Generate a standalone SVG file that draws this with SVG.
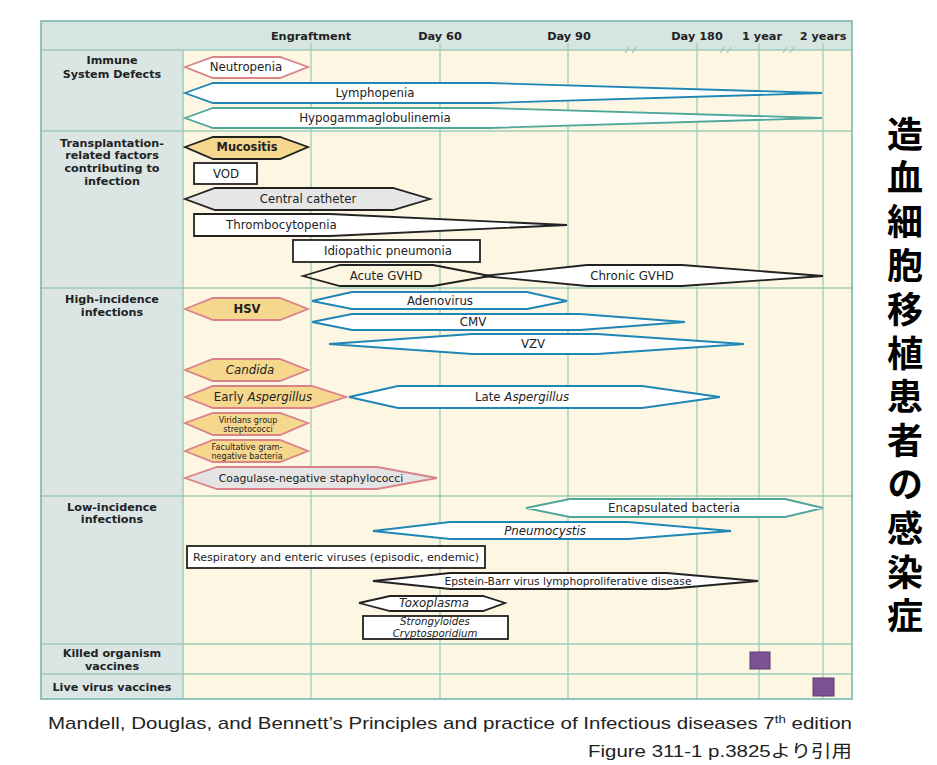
<svg xmlns="http://www.w3.org/2000/svg" width="937" height="765" viewBox="0 0 937 765">
<style>
.lbl{font-family:"DejaVu Sans",sans-serif;font-size:11.8px;fill:#222;text-anchor:middle}
.sm{font-family:"DejaVu Sans",sans-serif;font-size:8.1px;fill:#222;text-anchor:middle}
.it{font-style:italic}
.hd{font-family:"DejaVu Sans",sans-serif;font-weight:bold;font-size:11.3px;fill:#222;text-anchor:middle}
.sec{font-family:"DejaVu Sans",sans-serif;font-weight:bold;font-size:11.2px;fill:#222;text-anchor:middle}
.grid{stroke:#9fcdb8;stroke-width:1.3;fill:none}
.sep{stroke:#9fcdb8;stroke-width:1.5;fill:none}
.pink{fill:#fff;stroke:#d9828a;stroke-width:1.8}
.yel{fill:#f6d78e;stroke:#d9828a;stroke-width:1.8}
.yelk{fill:#f6d78e;stroke:#222;stroke-width:1.8}
.blue{fill:#fff;stroke:#1f86b5;stroke-width:1.8}
.teal{fill:#fff;stroke:#4fa79c;stroke-width:1.8}
.blk{fill:#fff;stroke:#222;stroke-width:1.8}
.gry{fill:#e6e6e6;stroke:#222;stroke-width:1.8}
.gryp{fill:#e4e4e4;stroke:#d9828a;stroke-width:1.8}
.vac{fill:#7c5295;stroke:#5a3a70;stroke-width:1}
.brk{stroke:#9ab4b4;stroke-width:1}
.cite{font-family:"Liberation Sans","Noto Sans CJK JP",sans-serif;font-size:17px;fill:#222}
.jp{font-family:"Noto Sans CJK JP",sans-serif;font-weight:bold;font-size:36px;fill:#000;writing-mode:vertical-rl;letter-spacing:7.8px}
</style>
<rect width="937" height="765" fill="#fff"/>
<g id="chart-frame">
<rect x="41" y="21" width="811" height="678" fill="#fcf6e2"/>
<rect x="41" y="21" width="811" height="29" fill="#d6e4e2"/>
<rect x="41" y="50" width="142" height="649" fill="#dae5e4"/>
<g class="grid">
<line x1="311" y1="43" x2="311" y2="699"/>
<line x1="440" y1="43" x2="440" y2="699"/>
<line x1="568" y1="43" x2="568" y2="699"/>
<line x1="697" y1="43" x2="697" y2="699"/>
<line x1="759" y1="43" x2="759" y2="699"/>
<line x1="823" y1="43" x2="823" y2="699"/>
</g>
<g class="sep">
<line x1="41" y1="50" x2="852" y2="50"/>
<line x1="41" y1="131" x2="852" y2="131"/>
<line x1="41" y1="288" x2="852" y2="288"/>
<line x1="41" y1="496" x2="852" y2="496"/>
<line x1="41" y1="644" x2="852" y2="644"/>
<line x1="41" y1="674" x2="852" y2="674"/>
<line x1="183" y1="50" x2="183" y2="699"/>
</g>
<g class="brk">
<line x1="625" y1="53" x2="629" y2="47"/><line x1="632" y1="53" x2="636" y2="47"/>
<line x1="720" y1="53" x2="724" y2="47"/><line x1="727" y1="53" x2="731" y2="47"/>
<line x1="783" y1="53" x2="787" y2="47"/><line x1="790" y1="53" x2="794" y2="47"/>
</g>
<rect x="41" y="21" width="811" height="678" fill="none" stroke="#7ab8b2" stroke-width="1.6"/>
</g>
<g id="timeline-header">
<text class="hd" x="311" y="40">Engraftment</text>
<text class="hd" x="440" y="40">Day 60</text>
<text class="hd" x="569" y="40">Day 90</text>
<text class="hd" x="697" y="40">Day 180</text>
<text class="hd" x="762" y="40">1 year</text>
<text class="hd" x="823" y="40">2 years</text>
</g>
<g id="section-labels">
<text class="sec" x="112" y="64">Immune</text>
<text class="sec" x="112" y="78">System Defects</text>
<text class="sec" x="112" y="147">Transplantation-</text>
<text class="sec" x="112" y="159">related factors</text>
<text class="sec" x="112" y="172">contributing to</text>
<text class="sec" x="112" y="185">infection</text>
<text class="sec" x="112" y="303">High-incidence</text>
<text class="sec" x="112" y="316">infections</text>
<text class="sec" x="112" y="511">Low-incidence</text>
<text class="sec" x="112" y="523">infections</text>
<text class="sec" x="112" y="657">Killed organism</text>
<text class="sec" x="112" y="670">vaccines</text>
<text class="sec" x="112" y="691">Live virus vaccines</text>
</g>
<g id="connectors"/>
<g id="neutropenia"><polygon class="pink" points="185,67 213,57 280,57 308,67 280,78 213,78"/><text class="lbl" x="246" y="71">Neutropenia</text></g>
<g id="lymphopenia"><polygon class="blue" points="185,93 213,83 490,83 822,93 490,103 213,103"/><text class="lbl" x="375" y="97">Lymphopenia</text></g>
<g id="hypogammaglobulinemia"><polygon class="teal" points="185,118 213,108 490,108 822,118 490,128 213,128"/><text class="lbl" x="375" y="122">Hypogammaglobulinemia</text></g>
<g id="mucositis"><polygon class="yelk" points="185,147 213,137 280,137 308,147 280,159 213,159"/><text class="lbl" x="247" y="151" style="font-weight:bold;font-size:11.4px">Mucositis</text></g>
<g id="vod"><rect class="blk" x="194" y="163" width="63" height="21"/><text class="lbl" x="226" y="178">VOD</text></g>
<g id="central-catheter"><polygon class="gry" points="185,199 215,188 393,188 430,199 393,210 215,210"/><text class="lbl" x="308" y="203">Central catheter</text></g>
<g id="thrombocytopenia"><polygon class="blk" points="194,214 330,214 567,225 330,236 194,236"/><text class="lbl" x="226" y="229" style="text-anchor:start">Thrombocytopenia</text></g>
<g id="idiopathic-pneumonia"><rect class="blk" x="293" y="240" width="187" height="22"/><text class="lbl" x="388" y="255">Idiopathic pneumonia</text></g>
<g id="chronic-gvhd"><polygon class="blk" points="483,276 587,265 682,265 823,276 682,286 587,286"/><text class="lbl" x="632" y="280">Chronic GVHD</text></g>
<g id="acute-gvhd"><polygon class="blk" points="303,276 340,265 433,265 490,276 433,286 340,286" style="fill:none"/><text class="lbl" x="386" y="280">Acute GVHD</text></g>
<g id="hsv"><polygon class="yel" points="185,309 213,298 280,298 308,309 280,320 213,320"/><text class="lbl" x="247" y="313" style="font-weight:bold;font-size:11.6px">HSV</text></g>
<g id="adenovirus"><polygon class="blue" points="312,301 352,292 527,292 567,301 527,309 352,309"/><text class="lbl" x="440" y="305">Adenovirus</text></g>
<g id="cmv"><polygon class="blue" points="312,322 352,314 580,314 685,322 580,330 352,330"/><text class="lbl" x="473" y="326">CMV</text></g>
<g id="vzv"><polygon class="blue" points="329,344 472,334 597,334 744,344 597,354 472,354"/><text class="lbl" x="533" y="348">VZV</text></g>
<g id="candida"><polygon class="yel" points="185,370 213,359 280,359 308,370 280,381 213,381"/><text class="lbl it" x="250" y="374">Candida</text></g>
<g id="early-aspergillus"><polygon class="yel" points="185,397 213,386 312,386 346,397 312,408 213,408"/><text class="lbl" x="263" y="401">Early <tspan class="it">Aspergillus</tspan></text></g>
<g id="late-aspergillus"><polygon class="blue" points="349,397 398,386 642,386 720,397 642,408 398,408"/><text class="lbl" x="522" y="401">Late <tspan class="it">Aspergillus</tspan></text></g>
<g id="viridans-streptococci"><polygon class="yel" points="185,423 213,413 280,413 308,423 280,435 213,435"/><text class="sm" x="248" y="422.5">Viridans group</text><text class="sm" x="248" y="431.5">streptococci</text></g>
<g id="facultative-gram-negative"><polygon class="yel" points="185,451 213,440 280,440 308,451 280,462 213,462"/><text class="sm" x="247" y="449.5">Facultative gram-</text><text class="sm" x="247" y="458.5">negative bacteria</text></g>
<g id="coagulase-negative-staphylococci"><polygon class="gryp" points="185,478 217,467 377,467 437,478 377,489 217,489"/><text class="lbl" x="311" y="482" style="font-size:10.8px">Coagulase-negative staphylococci</text></g>
<g id="encapsulated-bacteria"><polygon class="teal" points="526,508 570,499 785,499 823,508 785,517 570,517"/><text class="lbl" x="674" y="512">Encapsulated bacteria</text></g>
<g id="pneumocystis"><polygon class="blue" points="373,531 450,522 628,522 731,531 628,539 450,539"/><text class="lbl it" x="545" y="535">Pneumocystis</text></g>
<g id="respiratory-enteric-viruses"><rect class="blk" x="187" y="546" width="298" height="22"/><text class="lbl" x="336" y="560.5" style="font-size:10.4px" textLength="286" lengthAdjust="spacingAndGlyphs">Respiratory and enteric viruses (episodic, endemic)</text></g>
<g id="ebv-lpd"><polygon class="blk" points="373,581 450,573 667,573 758,581 667,589 450,589"/><text class="lbl" x="568" y="584.5" style="font-size:9.8px" textLength="247" lengthAdjust="spacingAndGlyphs">Epstein-Barr virus lymphoproliferative disease</text></g>
<g id="toxoplasma"><polygon class="blk" points="359,603 390,596 483,596 505,603 483,611 390,611"/><text class="lbl it" x="434" y="607">Toxoplasma</text></g>
<g id="strongyloides-cryptosporidium"><rect class="blk" x="363" y="616" width="145" height="23"/><text class="lbl it" style="font-size:10.2px"><tspan x="435" y="625">Strongyloides</tspan><tspan x="435" y="636.5">Cryptosporidium</tspan></text></g>
<g id="killed-vaccine"><rect class="vac" x="750" y="652" width="20" height="17"/></g>
<g id="live-vaccine"><rect class="vac" x="813" y="678" width="21" height="18"/></g>
<g id="citation">
<text class="cite" x="48" y="729" textLength="804" lengthAdjust="spacingAndGlyphs">Mandell, Douglas, and Bennett’s Principles and practice of Infectious diseases 7<tspan dy="-6" style="font-size:11px">th</tspan><tspan dy="6"> edition</tspan></text>
<text class="cite" x="588" y="757" textLength="264" lengthAdjust="spacingAndGlyphs">Figure 311-1 p.3825より引用</text>
</g>
<g id="title-vertical">
<text class="jp" x="905" y="116">造血細胞移植患者の感染症</text>
</g>
</svg>
